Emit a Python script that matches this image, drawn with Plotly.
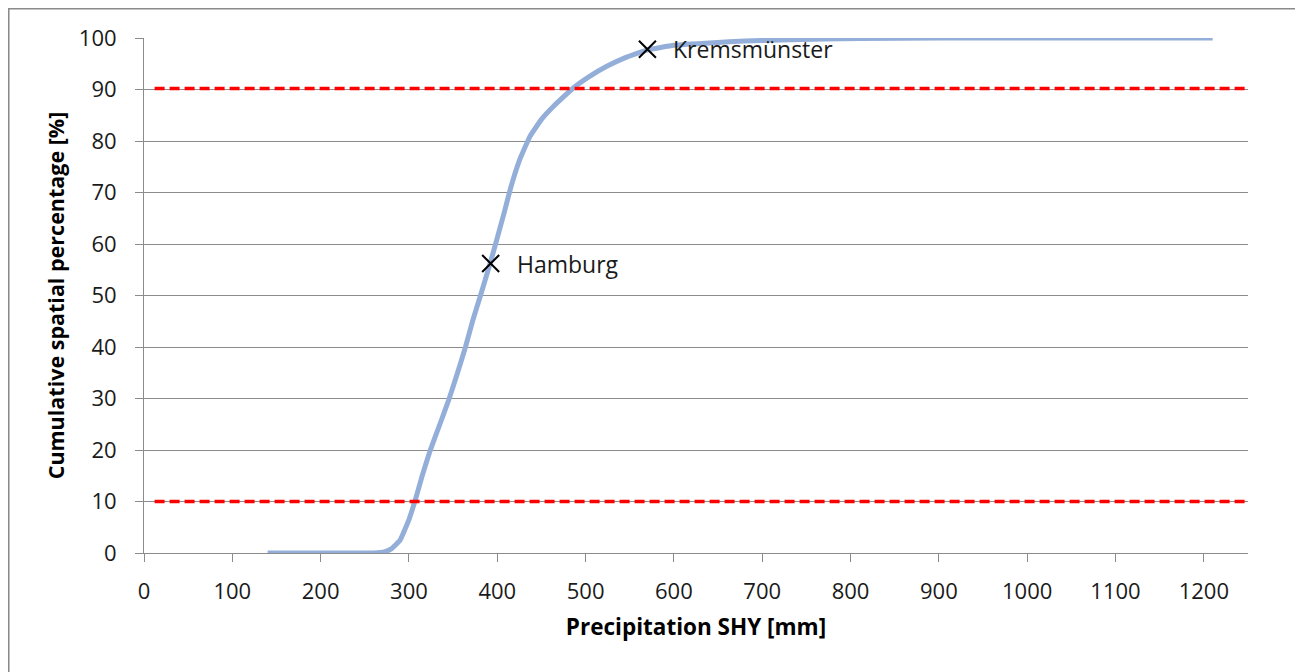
import plotly.graph_objects as go

# cumulative curve
precip_mm = [140, 200, 260, 272, 280, 290, 300, 307, 315, 324, 335, 345, 355, 364,
             372, 381, 392, 400, 408, 415, 425, 437, 450, 464, 486, 505, 524, 545,
             570, 600, 645, 680, 720, 770, 811, 900, 1000, 1100, 1210]
cum_pct = [0, 0, 0, 0.2, 0.8, 2.5, 6.5, 10.2, 15, 19.9, 25, 29.7, 35, 40,
           45, 50, 56.3, 61.2, 66.2, 70.8, 76.2, 80.9, 84.2, 86.8, 90.3, 92.6, 94.5, 96.2,
           97.7, 98.6, 99.1, 99.4, 99.6, 99.8, 99.9, 100, 100, 100, 100]

# 10 % / 90 % reference lines
ref_x = [12, 1250]
ref_low = [10, 10]
ref_high = [90.2, 90.2]

# stations
station_names = ["Hamburg", "Kremsmünster"]
station_x = [392.5, 570]
station_y = [56.2, 97.8]

x_ticks = list(range(0, 1201, 100))
y_ticks = list(range(0, 101, 10))

FONT = "Open Sans"
GRID = "#8c8c8c"

fig = go.Figure()

fig.add_trace(go.Scatter(x=precip_mm, y=cum_pct, mode="lines",
                         line=dict(color="#93AED8", width=5, shape="spline", smoothing=0.3),
                         hoverinfo="skip", showlegend=False))

for ys in (ref_low, ref_high):
    fig.add_trace(go.Scatter(x=ref_x, y=ys, mode="lines",
                             line=dict(color="#ff0000", width=3.5, dash="10px,5px"),
                             hoverinfo="skip", showlegend=False))

fig.add_trace(go.Scatter(x=station_x, y=station_y, mode="markers",
                         marker=dict(symbol="x-thin", size=17,
                                     line=dict(color="black", width=2)),
                         hoverinfo="skip", showlegend=False))

for name, sx, sy in zip(station_names, station_x, station_y):
    fig.add_annotation(x=sx, y=sy, text=name, showarrow=False,
                       xanchor="left", yanchor="middle", xshift=24,
                       font=dict(family=FONT, size=23, color="#1a1a1a"))

# outer chart border (page adds an 8px body margin)
fig.add_shape(type="rect", xref="paper", yref="paper",
              x0=-0.1227, x1=1.0489, y0=-0.3, y1=1.0573,
              line=dict(color="#8a8a8a", width=2), layer="below")

fig.update_xaxes(range=[0, 1250], tickvals=x_ticks, ticktext=[str(v) for v in x_ticks],
                 automargin=False,
                 showgrid=False, zeroline=False,
                 showline=True, linecolor=GRID, linewidth=1,
                 ticks="outside", ticklen=8, tickcolor=GRID,
                 ticklabelstandoff=11,
                 tickfont=dict(family=FONT, size=22, color="#1a1a1a"),
                 title=dict(text="<b>Precipitation SHY [mm]</b>", standoff=14,
                            font=dict(family=FONT, size=22.5, color="black")))

fig.update_yaxes(range=[0, 100], tickvals=y_ticks, automargin=False,
                 showgrid=True, gridcolor=GRID, gridwidth=1, zeroline=False,
                 showline=True, linecolor=GRID, linewidth=1,
                 ticks="outside", ticklen=8, tickcolor=GRID,
                 ticklabelstandoff=14,
                 tickfont=dict(family=FONT, size=22, color="#1a1a1a"),
                 title=dict(text="<b>Cumulative spatial percentage [%]</b>", standoff=8,
                            font=dict(family=FONT, size=21.5, color="black")))

fig.update_layout(width=1303, height=672,
                  margin=dict(l=136, r=63, t=30, b=127),
                  paper_bgcolor="white", plot_bgcolor="white",
                  font=dict(family=FONT))

fig.write_html("out.html")
